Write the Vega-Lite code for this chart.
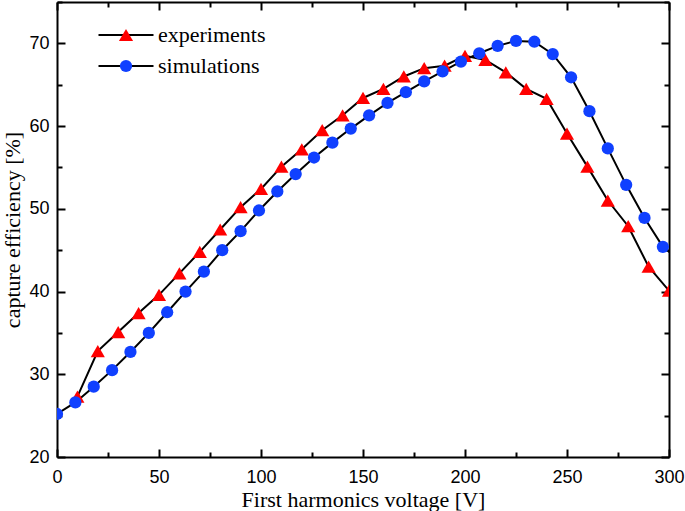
{
  "$schema": "https://vega.github.io/schema/vega-lite/v6.json",
  "width": 612,
  "height": 455,
  "autosize": "none",
  "padding": {"left": 57, "top": 2, "right": 16, "bottom": 54},
  "background": "white",
  "config": {
    "view": {"stroke": null},
    "axis": {
      "grid": false,
      "domainColor": "black",
      "domainWidth": 2,
      "tickColor": "black",
      "tickWidth": 2,
      "labelFont": "Liberation Sans",
      "labelFontSize": 18,
      "labelColor": "black",
      "labelOverlap": false,
      "labelFlush": false,
      "titleFont": "Liberation Serif",
      "titleFontSize": 22,
      "titleFontWeight": "normal",
      "titleColor": "black"
    }
  },
  "data": {
    "values": [
      {"voltage": 10, "efficiency": 27.3, "series": "experiments"},
      {"voltage": 20, "efficiency": 32.8, "series": "experiments"},
      {"voltage": 30, "efficiency": 35.1, "series": "experiments"},
      {"voltage": 40, "efficiency": 37.4, "series": "experiments"},
      {"voltage": 50, "efficiency": 39.6, "series": "experiments"},
      {"voltage": 60, "efficiency": 42.2, "series": "experiments"},
      {"voltage": 70, "efficiency": 44.8, "series": "experiments"},
      {"voltage": 80, "efficiency": 47.5, "series": "experiments"},
      {"voltage": 90, "efficiency": 50.2, "series": "experiments"},
      {"voltage": 100, "efficiency": 52.4, "series": "experiments"},
      {"voltage": 110, "efficiency": 55.1, "series": "experiments"},
      {"voltage": 120, "efficiency": 57.2, "series": "experiments"},
      {"voltage": 130, "efficiency": 59.5, "series": "experiments"},
      {"voltage": 140, "efficiency": 61.3, "series": "experiments"},
      {"voltage": 150, "efficiency": 63.4, "series": "experiments"},
      {"voltage": 160, "efficiency": 64.5, "series": "experiments"},
      {"voltage": 170, "efficiency": 66.0, "series": "experiments"},
      {"voltage": 180, "efficiency": 67.0, "series": "experiments"},
      {"voltage": 190, "efficiency": 67.3, "series": "experiments"},
      {"voltage": 200, "efficiency": 68.5, "series": "experiments"},
      {"voltage": 210, "efficiency": 68.0, "series": "experiments"},
      {"voltage": 220, "efficiency": 66.5, "series": "experiments"},
      {"voltage": 230, "efficiency": 64.5, "series": "experiments"},
      {"voltage": 240, "efficiency": 63.3, "series": "experiments"},
      {"voltage": 250, "efficiency": 59.1, "series": "experiments"},
      {"voltage": 260, "efficiency": 55.1, "series": "experiments"},
      {"voltage": 270, "efficiency": 51.0, "series": "experiments"},
      {"voltage": 280, "efficiency": 47.9, "series": "experiments"},
      {"voltage": 290, "efficiency": 43.0, "series": "experiments"},
      {"voltage": 300, "efficiency": 40.1, "series": "experiments"},
      {"voltage": 0, "efficiency": 25.2, "series": "simulations"},
      {"voltage": 9, "efficiency": 26.6, "series": "simulations"},
      {"voltage": 18, "efficiency": 28.5, "series": "simulations"},
      {"voltage": 27, "efficiency": 30.5, "series": "simulations"},
      {"voltage": 36, "efficiency": 32.7, "series": "simulations"},
      {"voltage": 45, "efficiency": 35.0, "series": "simulations"},
      {"voltage": 54, "efficiency": 37.5, "series": "simulations"},
      {"voltage": 63, "efficiency": 40.0, "series": "simulations"},
      {"voltage": 72, "efficiency": 42.4, "series": "simulations"},
      {"voltage": 81, "efficiency": 45.0, "series": "simulations"},
      {"voltage": 90, "efficiency": 47.3, "series": "simulations"},
      {"voltage": 99, "efficiency": 49.8, "series": "simulations"},
      {"voltage": 108, "efficiency": 52.1, "series": "simulations"},
      {"voltage": 117, "efficiency": 54.2, "series": "simulations"},
      {"voltage": 126, "efficiency": 56.2, "series": "simulations"},
      {"voltage": 135, "efficiency": 58.0, "series": "simulations"},
      {"voltage": 144, "efficiency": 59.7, "series": "simulations"},
      {"voltage": 153, "efficiency": 61.3, "series": "simulations"},
      {"voltage": 162, "efficiency": 62.8, "series": "simulations"},
      {"voltage": 171, "efficiency": 64.1, "series": "simulations"},
      {"voltage": 180, "efficiency": 65.4, "series": "simulations"},
      {"voltage": 189, "efficiency": 66.6, "series": "simulations"},
      {"voltage": 198, "efficiency": 67.8, "series": "simulations"},
      {"voltage": 207, "efficiency": 68.8, "series": "simulations"},
      {"voltage": 216, "efficiency": 69.7, "series": "simulations"},
      {"voltage": 225, "efficiency": 70.3, "series": "simulations"},
      {"voltage": 234, "efficiency": 70.2, "series": "simulations"},
      {"voltage": 243, "efficiency": 68.7, "series": "simulations"},
      {"voltage": 252, "efficiency": 65.9, "series": "simulations"},
      {"voltage": 261, "efficiency": 61.8, "series": "simulations"},
      {"voltage": 270, "efficiency": 57.3, "series": "simulations"},
      {"voltage": 279, "efficiency": 52.9, "series": "simulations"},
      {"voltage": 288, "efficiency": 48.9, "series": "simulations"},
      {"voltage": 297, "efficiency": 45.4, "series": "simulations"},
      {"voltage": 306, "efficiency": 43.6, "series": "simulations"}
    ]
  },
  "layer": [
    {
      "mark": {"type": "line", "strokeWidth": 2, "clip": true},
      "encoding": {
        "x": {
          "field": "voltage",
          "type": "quantitative",
          "scale": {"domain": [0, 300], "nice": false},
          "axis": {
            "orient": "bottom",
            "values": [0, 25, 50, 75, 100, 125, 150, 175, 200, 225, 250, 275, 300],
            "labelExpr": "datum.value % 50 === 0 ? datum.label : ''",
            "tickSize": {"condition": {"test": "datum.value % 50 === 0", "value": -8}, "value": -5},
            "labelPadding": 19,
            "title": "First harmonics voltage [V]",
            "titlePadding": 0
          }
        },
        "y": {
          "field": "efficiency",
          "type": "quantitative",
          "scale": {"domain": [20, 75], "nice": false, "zero": false},
          "axis": {
            "orient": "left",
            "values": [20, 25, 30, 35, 40, 45, 50, 55, 60, 65, 70, 75],
            "labelExpr": "datum.value % 10 === 0 ? datum.label : ''",
            "tickSize": {"condition": {"test": "datum.value % 10 === 0", "value": -8}, "value": -5},
            "labelPadding": 16,
            "title": "capture efficiency [%]",
            "titlePadding": 4
          }
        },
        "stroke": {
          "field": "series",
          "type": "nominal",
          "scale": {"domain": ["experiments", "simulations"], "range": ["black", "black"]},
          "legend": {
            "orient": "none",
            "legendX": 58,
            "legendY": 22,
            "title": null,
            "padding": 0,
            "symbolType": "M-5,0H5",
            "symbolSize": 121,
            "symbolStrokeWidth": 2,
            "labelFont": "Liberation Serif",
            "labelFontSize": 22,
            "labelColor": "black",
            "labelOffset": 21,
            "rowPadding": 9,
            "zindex": 1
          }
        }
      }
    },
    {
      "mark": {"type": "point", "filled": true, "opacity": 1, "clip": true},
      "encoding": {
        "x": {
          "field": "voltage",
          "type": "quantitative",
          "axis": {
            "orient": "top",
            "values": [0, 25, 50, 75, 100, 125, 150, 175, 200, 225, 250, 275, 300],
            "labels": false,
            "tickSize": {"condition": {"test": "datum.value % 50 === 0", "value": -8}, "value": -5},
            "title": null
          }
        },
        "y": {
          "field": "efficiency",
          "type": "quantitative",
          "axis": {
            "orient": "right",
            "values": [20, 25, 30, 35, 40, 45, 50, 55, 60, 65, 70, 75],
            "labels": false,
            "tickSize": {"condition": {"test": "datum.value % 10 === 0", "value": -8}, "value": -5},
            "title": null
          }
        },
        "size": {
          "field": "series",
          "type": "nominal",
          "scale": {"range": [200, 150]},
          "legend": null
        },
        "color": {
          "field": "series",
          "type": "nominal",
          "scale": {"range": ["#ff0000", "#1040ff"]},
          "legend": {
            "orient": "none",
            "legendX": 58,
            "legendY": 22,
            "title": null,
            "padding": 0,
            "symbolSize": 121,
            "symbolStrokeWidth": 0,
            "symbolOpacity": 1,
            "labelFont": "Liberation Serif",
            "labelFontSize": 22,
            "labelColor": "transparent",
            "labelOffset": 21,
            "rowPadding": 9,
            "zindex": 2
          }
        },
        "shape": {
          "field": "series",
          "type": "nominal",
          "scale": {"range": ["triangle-up", "circle"]}
        }
      }
    }
  ],
  "resolve": {"axis": {"x": "independent", "y": "independent"}}
}
